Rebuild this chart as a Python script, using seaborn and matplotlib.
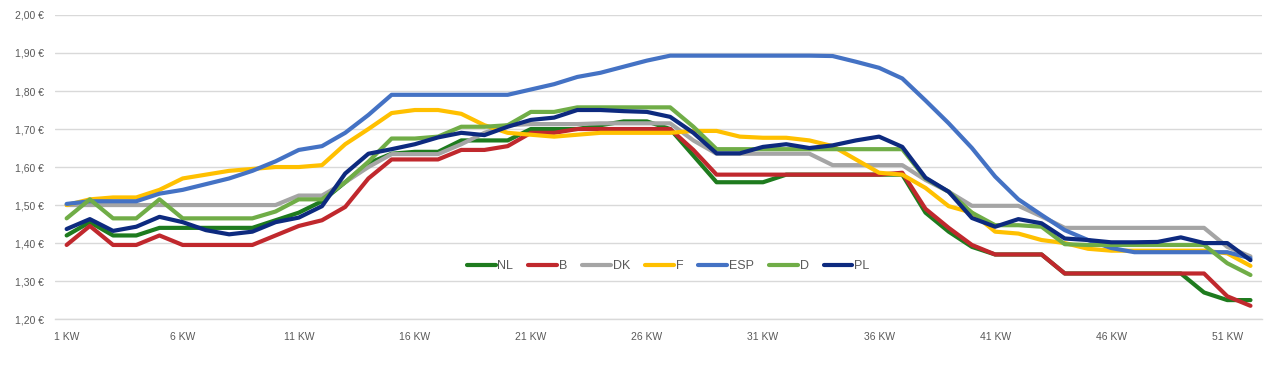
import numpy as np
import pandas as pd
import matplotlib
matplotlib.use("Agg")
import matplotlib.pyplot as plt
import seaborn as sns
from matplotlib.ticker import FuncFormatter

weeks = list(range(1, 53))
tick_weeks = [1, 6, 11, 16, 21, 26, 31, 36, 41, 46, 51]
tick_labels = [f"{w} KW" for w in tick_weeks]
series_names = ["NL", "B", "DK", "F", "ESP", "D", "PL"]

NL = [1.42, 1.455, 1.42, 1.42, 1.44, 1.44, 1.44, 1.44, 1.44, 1.46,
      1.48, 1.51, 1.56, 1.61, 1.635, 1.64, 1.64, 1.67, 1.67, 1.67,
      1.70, 1.70, 1.70, 1.71, 1.72, 1.72, 1.70, 1.63, 1.56, 1.56,
      1.56, 1.58, 1.58, 1.58, 1.58, 1.58, 1.58, 1.48, 1.43, 1.39,
      1.37, 1.37, 1.37, 1.32, 1.32, 1.32, 1.32, 1.32, 1.32, 1.27,
      1.25, 1.25]
B = [1.395, 1.445, 1.395, 1.395, 1.42, 1.395, 1.395, 1.395, 1.395, 1.42,
     1.445, 1.46, 1.495, 1.57, 1.62, 1.62, 1.62, 1.645, 1.645, 1.655,
     1.69, 1.69, 1.70, 1.70, 1.70, 1.70, 1.70, 1.645, 1.58, 1.58,
     1.58, 1.58, 1.58, 1.58, 1.58, 1.58, 1.585, 1.49, 1.44, 1.395,
     1.37, 1.37, 1.37, 1.32, 1.32, 1.32, 1.32, 1.32, 1.32, 1.32,
     1.26, 1.235]
DK = [1.50, 1.50, 1.50, 1.50, 1.50, 1.50, 1.50, 1.50, 1.50, 1.50,
      1.525, 1.525, 1.56, 1.60, 1.634, 1.634, 1.634, 1.66, 1.69, 1.71,
      1.713, 1.713, 1.713, 1.715, 1.715, 1.715, 1.715, 1.67, 1.635, 1.635,
      1.635, 1.635, 1.635, 1.605, 1.605, 1.605, 1.605, 1.566, 1.535, 1.498,
      1.498, 1.498, 1.47, 1.44, 1.44, 1.44, 1.44, 1.44, 1.44, 1.44,
      1.39, 1.365]
F = [1.50, 1.515, 1.52, 1.52, 1.54, 1.57, 1.58, 1.59, 1.595, 1.60,
     1.60, 1.605, 1.66, 1.70, 1.742, 1.75, 1.75, 1.74, 1.71, 1.69,
     1.685, 1.68, 1.685, 1.69, 1.69, 1.69, 1.69, 1.695, 1.695, 1.68,
     1.677, 1.677, 1.67, 1.655, 1.62, 1.585, 1.58, 1.545, 1.497, 1.48,
     1.43, 1.425, 1.408, 1.40, 1.385, 1.38, 1.38, 1.38, 1.38, 1.38,
     1.373, 1.34]
ESP = [1.503, 1.51, 1.51, 1.51, 1.53, 1.54, 1.555, 1.57, 1.59, 1.615,
       1.645, 1.655, 1.69, 1.737, 1.79, 1.79, 1.79, 1.79, 1.79, 1.79,
       1.804, 1.818, 1.837, 1.848, 1.864, 1.88, 1.893, 1.893, 1.893, 1.893,
       1.893, 1.893, 1.893, 1.892, 1.877, 1.861, 1.833, 1.775, 1.715, 1.65,
       1.575, 1.515, 1.474, 1.434, 1.408, 1.387, 1.376, 1.376, 1.376, 1.376,
       1.376, 1.36]
D = [1.465, 1.515, 1.465, 1.465, 1.515, 1.465, 1.465, 1.465, 1.465, 1.483,
     1.515, 1.515, 1.56, 1.614, 1.675, 1.675, 1.68, 1.706, 1.706, 1.71,
     1.745, 1.745, 1.757, 1.757, 1.757, 1.757, 1.757, 1.706, 1.647, 1.647,
     1.647, 1.647, 1.647, 1.647, 1.647, 1.647, 1.647, 1.57, 1.535, 1.48,
     1.447, 1.447, 1.443, 1.397, 1.395, 1.395, 1.395, 1.395, 1.395, 1.395,
     1.347, 1.316]
PL = [1.437, 1.463, 1.432, 1.443, 1.469, 1.455, 1.434, 1.423, 1.43, 1.455,
      1.467, 1.497, 1.583, 1.635, 1.647, 1.66, 1.678, 1.69, 1.684, 1.706,
      1.724, 1.73, 1.75, 1.75, 1.747, 1.745, 1.732, 1.69, 1.636, 1.636,
      1.653, 1.66, 1.65, 1.657, 1.67, 1.68, 1.653, 1.572, 1.535, 1.466,
      1.443, 1.463, 1.452, 1.412, 1.408, 1.402, 1.402, 1.403, 1.415, 1.40,
      1.40, 1.355]

values = [NL, B, DK, F, ESP, D, PL]
colors = ["#1E7B1E", "#C0282D", "#A5A5A5", "#FFC000", "#4472C4", "#70AD47", "#0D2A7F"]

df = pd.DataFrame({
    "week": np.tile(weeks, len(series_names)),
    "price": np.concatenate(values),
    "country": np.repeat(series_names, len(weeks)),
})

sns.set_style("white")
plt.rcParams["font.family"] = ["Liberation Sans", "DejaVu Sans"]

fig = plt.figure(figsize=(12.8, 3.84), dpi=100)
ax = fig.add_axes([0.043, 0.169, 0.943, 0.792])

sns.lineplot(data=df, x="week", y="price", hue="country", hue_order=series_names,
             palette=dict(zip(series_names, colors)), linewidth=3.0, ax=ax,
             legend=True)

ax.set_xlim(0.5, 52.5)
ax.set_ylim(1.20, 2.00)
ax.set_yticks(np.arange(1.20, 2.001, 0.10))
ax.yaxis.set_major_formatter(FuncFormatter(lambda v, p: f"{v:.2f} €".replace(".", ",")))
ax.set_xticks(tick_weeks)
ax.set_xticklabels(tick_labels)
ax.tick_params(axis="both", length=0, labelsize=7.5, colors="#595959")
ax.tick_params(axis="x", pad=9)
ax.tick_params(axis="y", pad=8)
ax.grid(axis="y", color="#D9D9D9", linewidth=1.0)
ax.grid(axis="x", visible=False)
ax.set_axisbelow(True)
for name, s in ax.spines.items():
    s.set_visible(False)
ax.spines["bottom"].set_visible(True)
ax.spines["bottom"].set_color("#D9D9D9")
ax.spines["bottom"].set_linewidth(1.0)
ax.set_xlabel("")
ax.set_ylabel("")

leg = ax.legend(loc="center", bbox_to_anchor=(0.508, 0.174), ncol=7, frameon=False,
                fontsize=9, handlelength=2.3, columnspacing=1.2, handletextpad=0.15,
                labelcolor="#595959")
for line in leg.get_lines():
    line.set_linewidth(3.0)

fig.savefig("out.png", dpi=100)
